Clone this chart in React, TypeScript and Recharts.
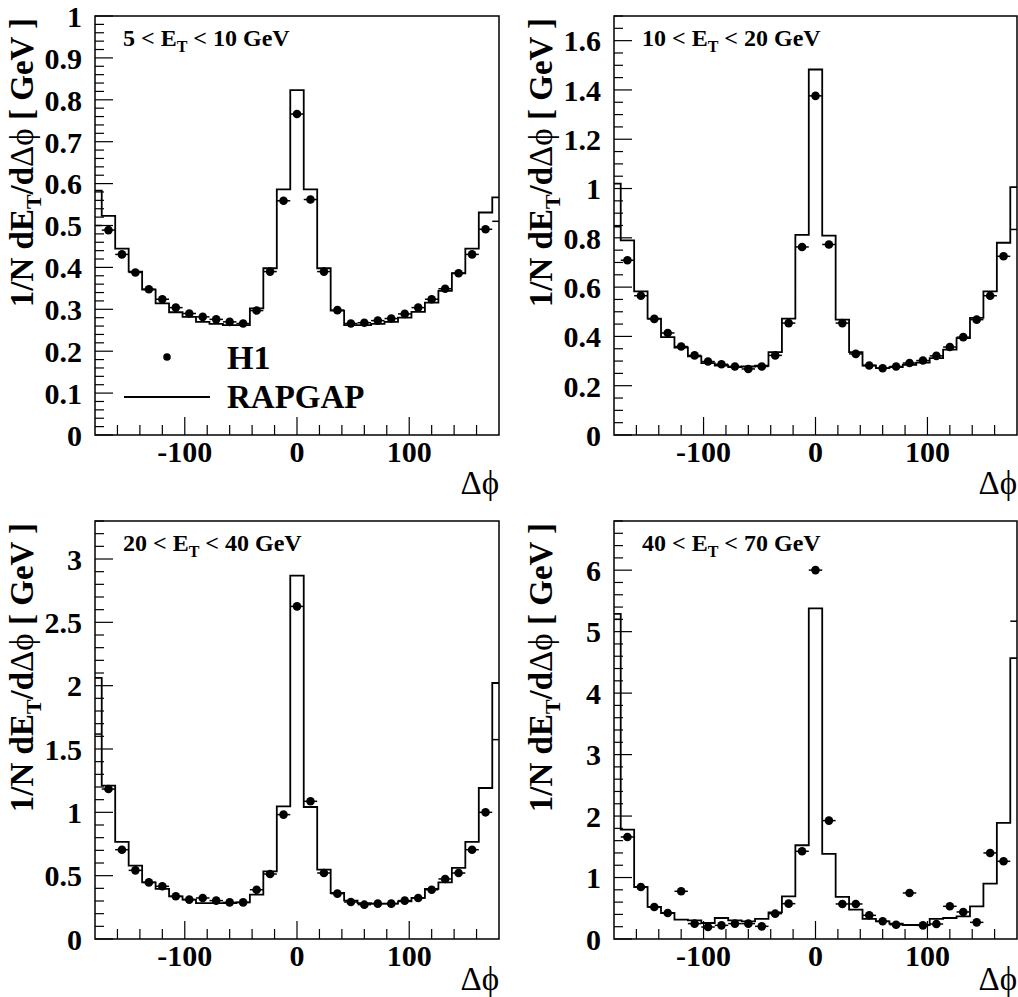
import React from 'react'
import { ComposedChart, Line, Scatter, ErrorBar, XAxis, YAxis, ReferenceArea } from 'recharts'

// bin edges of the RAPGAP histograms (half bins at both ends)
const binEdges = [-180, -174, -162, -150, -138, -126, -114, -102, -90, -78, -66, -54, -42, -30, -18, -6, 6, 18, 30, 42, 54, 66, 78, 90, 102, 114, 126, 138, 150, 162, 174, 180]
// H1 points sit at the bin centres
const pointX = [-168, -156, -144, -132, -120, -108, -96, -84, -72, -60, -48, -36, -24, -12, 0, 12, 24, 36, 48, 60, 72, 84, 96, 108, 120, 132, 144, 156, 168]
const edgeX = [-177, 177]

const rapgap5to10 = [0.583, 0.523, 0.445, 0.39, 0.347, 0.314, 0.293, 0.282, 0.27, 0.265, 0.262, 0.262, 0.302, 0.398, 0.586, 0.823, 0.586, 0.398, 0.297, 0.262, 0.262, 0.265, 0.27, 0.28, 0.294, 0.316, 0.344, 0.386, 0.445, 0.531, 0.567]
const h1_5to10 = [0.489, 0.431, 0.388, 0.348, 0.324, 0.304, 0.29, 0.282, 0.276, 0.27, 0.266, 0.297, 0.39, 0.559, 0.766, 0.562, 0.39, 0.298, 0.266, 0.268, 0.273, 0.278, 0.289, 0.304, 0.324, 0.349, 0.386, 0.431, 0.491]
const h1Edge5to10 = [0.5, 0.51]

const rapgap10to20 = [1.02, 0.79, 0.583, 0.472, 0.397, 0.355, 0.319, 0.292, 0.282, 0.275, 0.278, 0.281, 0.336, 0.472, 0.812, 1.483, 0.809, 0.468, 0.336, 0.282, 0.271, 0.275, 0.285, 0.294, 0.312, 0.346, 0.393, 0.475, 0.583, 0.78, 1.006]
const h1_10to20 = [0.709, 0.565, 0.471, 0.414, 0.359, 0.323, 0.298, 0.287, 0.278, 0.268, 0.278, 0.323, 0.454, 0.763, 1.376, 0.773, 0.454, 0.329, 0.282, 0.271, 0.278, 0.292, 0.302, 0.321, 0.357, 0.397, 0.468, 0.565, 0.725]
const h1Edge10to20 = [0.845, 0.834]

const rapgap20to40 = [2.061, 1.211, 0.766, 0.579, 0.447, 0.395, 0.337, 0.311, 0.284, 0.284, 0.284, 0.289, 0.35, 0.534, 1.047, 2.868, 1.042, 0.547, 0.363, 0.303, 0.284, 0.279, 0.279, 0.297, 0.324, 0.395, 0.447, 0.561, 0.766, 1.192, 2.021]
const h1_20to40 = [1.184, 0.705, 0.542, 0.447, 0.416, 0.337, 0.311, 0.324, 0.303, 0.289, 0.289, 0.389, 0.513, 0.982, 2.626, 1.087, 0.521, 0.358, 0.292, 0.271, 0.279, 0.279, 0.303, 0.324, 0.389, 0.474, 0.521, 0.705, 1.0]
const h1Edge20to40 = [1.618, 1.574]

const rapgap40to70 = [5.29, 1.78, 0.846, 0.521, 0.423, 0.315, 0.304, 0.26, 0.342, 0.304, 0.288, 0.326, 0.434, 0.695, 1.525, 5.377, 1.384, 0.684, 0.477, 0.326, 0.288, 0.25, 0.228, 0.228, 0.326, 0.342, 0.369, 0.532, 0.901, 1.888, 4.569]
const h1_40to70 = [1.66, 0.846, 0.521, 0.423, 0.776, 0.25, 0.195, 0.222, 0.25, 0.25, 0.206, 0.412, 0.575, 1.427, 6.001, 1.926, 0.57, 0.57, 0.385, 0.288, 0.233, 0.749, 0.222, 0.244, 0.532, 0.44, 0.271, 1.4, 1.264]
const h1Edge40to70 = [5.2, 5.17]

const xMajor = [-100, 0, 100]
const xTicks = [-160, -140, -120, -100, -80, -60, -40, -20, 0, 20, 40, 60, 80, 100, 120, 140, 160]

const SERIF = '"Liberation Serif", "Times New Roman", serif'

const panels = [
  { lo: 5, hi: 10, hist: rapgap5to10, pts: h1_5to10, edge: h1Edge5to10, ymax: 1, major: 0.1, minor: 0.02, left: 0, top: 0, w: 509, h: 497, mr: 10, xh: 62, dphi: 59, legend: true },
  { lo: 10, hi: 20, hist: rapgap10to20, pts: h1_10to20, edge: h1Edge10to20, ymax: 1.7, major: 0.2, minor: 0.05, left: 519, top: 0, w: 499, h: 497, mr: 1, xh: 62, dphi: 59, legend: false },
  { lo: 20, hi: 40, hist: rapgap20to40, pts: h1_20to40, edge: h1Edge20to40, ymax: 3.3, major: 0.5, minor: 0.1, left: 0, top: 505, w: 509, h: 492, mr: 10, xh: 58, dphi: 51, legend: false },
  { lo: 40, hi: 70, hist: rapgap40to70, pts: h1_40to70, edge: h1Edge40to70, ymax: 6.8, major: 1, minor: 0.2, left: 519, top: 505, w: 499, h: 492, mr: 1, xh: 58, dphi: 51, legend: false },
]

const isMult = (v: number, step: number) => Math.abs(v / step - Math.round(v / step)) < 1e-6

function YTick(props: any) {
  const { x, y, payload, major } = props
  const big = isMult(payload.value, major)
  return (
    <g>
      <line x1={x} y1={y} x2={x + (big ? 18 : 9)} y2={y} stroke="#000" strokeWidth={1.2} />
      {big && (
        <text x={x - 13} y={y} dy="0.36em" textAnchor="end" fontFamily={SERIF} fontWeight="bold" fontSize={30} fill="#000">
          {String(Number(payload.value.toFixed(2)))}
        </text>
      )}
    </g>
  )
}

function XTick(props: any) {
  const { x, y, payload } = props
  const big = xMajor.includes(payload.value)
  return (
    <g>
      <line x1={x} y1={y} x2={x} y2={y - (big ? 18 : 10)} stroke="#000" strokeWidth={1.2} />
      {big && (
        <text x={x} y={y + 27} textAnchor="middle" fontFamily={SERIF} fontWeight="bold" fontSize={30} fill="#000">
          {payload.value}
        </text>
      )}
    </g>
  )
}

function Panel({ p }: { p: typeof panels[number] }) {
  const histData = binEdges.map((e, i) => ({ x: e, y: p.hist[Math.min(i, p.hist.length - 1)] }))
  const ptData = pointX.map((x, i) => ({ x, y: p.pts[i], ex: 6 }))
  const edgeData = edgeX.map((x, i) => ({ x, y: p.edge[i], ex: 3 }))
  const yTicks: number[] = []
  for (let v = 0; v <= p.ymax + 1e-9; v += p.minor) yTicks.push(Number(v.toFixed(3)))

  const L = p.left + 95
  const T = p.top + 16
  const R = p.left + p.w - p.mr
  const B = p.top + p.h - p.xh

  return (
    <>
      <div style={{ position: 'absolute', left: p.left, top: p.top }}>
        <ComposedChart width={p.w} height={p.h} margin={{ top: 16, right: p.mr, bottom: 0, left: 0 }}>
          <XAxis dataKey="x" type="number" domain={[-180, 180]} allowDataOverflow ticks={xTicks} interval={0}
            height={p.xh} axisLine={false} tickLine={false} tickSize={0} tickMargin={0} tick={(t: any) => <XTick {...t} />} />
          <YAxis dataKey="y" type="number" domain={[0, p.ymax]} allowDataOverflow ticks={yTicks} interval={0}
            width={95} axisLine={false} tickLine={false} tickSize={0} tickMargin={0} tick={(t: any) => <YTick {...t} major={p.major} />} />
          <ReferenceArea x1={-180} x2={180} y1={0} y2={p.ymax} fill="none" stroke="#000" strokeWidth={1.5} ifOverflow="visible" />
          <Line data={histData} dataKey="y" type="stepAfter" stroke="#000" strokeWidth={1.8} dot={false} isAnimationActive={false} />
          <Scatter data={edgeData} dataKey="y" shape={() => <g />} isAnimationActive={false}>
            <ErrorBar dataKey="ex" direction="x" width={0} stroke="#000" strokeWidth={1.5} />
          </Scatter>
          <Scatter data={ptData} dataKey="y" isAnimationActive={false}
            shape={(s: any) => <circle cx={s.cx} cy={s.cy} r={4.3} fill="#000" />}>
            <ErrorBar dataKey="ex" direction="x" width={0} stroke="#000" strokeWidth={1.5} />
          </Scatter>
        </ComposedChart>
      </div>
      <svg style={{ position: 'absolute', left: 0, top: 0, pointerEvents: 'none' }} width={1018} height={997}>
        <text x={L + 28} y={T + 30} fontFamily={SERIF} fontWeight="bold" fontSize={24} fill="#000">
          {p.lo} &lt; E<tspan fontSize={16} dy={6}>T</tspan><tspan dy={-6}> &lt; {p.hi} GeV</tspan>
        </text>
        <text transform={`translate(${L - 62}, ${T + 2}) rotate(-90)`} textAnchor="end" fontFamily={SERIF} fontWeight="bold" fontSize={33} fill="#000">
          1/N dE<tspan fontSize={22} dy={8}>T</tspan><tspan dy={-8}>/d</tspan><tspan fontWeight="normal">Δϕ</tspan> [ GeV ]
        </text>
        <text x={R} y={B + p.dphi} textAnchor="end" fontFamily={SERIF} fontSize={33} fill="#000">Δϕ</text>
        {p.legend && (
          <g>
            <circle cx={L + 72} cy={T + 341} r={3.8} fill="#000" />
            <text x={L + 132} y={T + 353} fontFamily={SERIF} fontWeight="bold" fontSize={34} fill="#000">H1</text>
            <line x1={L + 29} x2={L + 115} y1={T + 381} y2={T + 381} stroke="#000" strokeWidth={1.8} />
            <text x={L + 132} y={T + 392} fontFamily={SERIF} fontWeight="bold" fontSize={33} fill="#000">RAPGAP</text>
          </g>
        )}
      </svg>
    </>
  )
}

export default function App() {
  return (
    <div style={{ position: 'absolute', left: 0, top: 0, width: 1018, height: 997, overflow: 'hidden', background: '#fff' }}>
      {panels.map((p, i) => <Panel key={i} p={p} />)}
    </div>
  )
}
